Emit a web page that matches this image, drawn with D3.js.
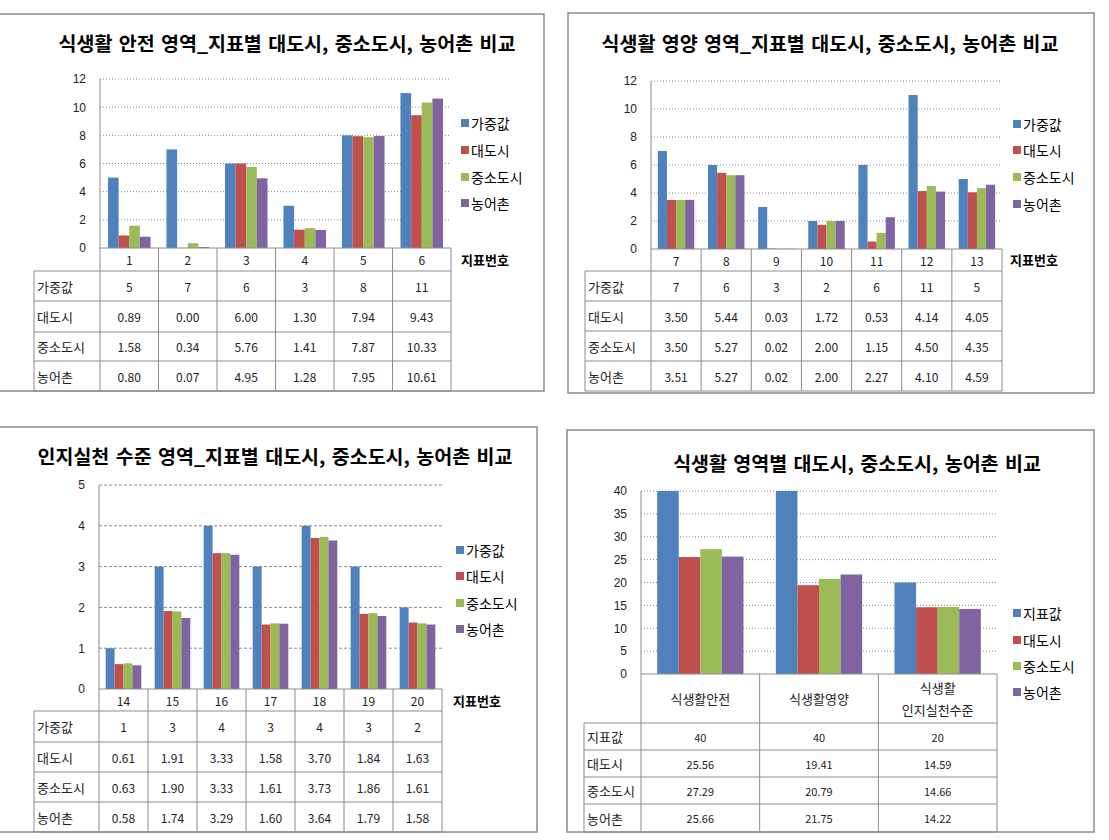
<!DOCTYPE html>
<html>
<head>
<meta charset="utf-8">
<script src="https://cdn.jsdelivr.net/npm/d3@7"></script>
<style>
  body { margin: 0; background: #fff; }
  svg { display: block; font-family: "Noto Sans CJK KR", "Noto Sans", sans-serif; }
</style>
</head>
<body>
<svg id="chart"></svg>
<script>
const width = 1109, height = 840;

// series names
const seriesNames = ["가중값", "대도시", "중소도시", "농어촌"];
const summarySeries = ["지표값", "대도시", "중소도시", "농어촌"];
const colors = ["#4F81BD", "#C0504D", "#9BBB59", "#8064A2"];

// 식생활 안전
const safetyIdx = ["1", "2", "3", "4", "5", "6"];
const safetyWeight = [5, 7, 6, 3, 8, 11];
const safetyMetro = [0.89, 0.00, 6.00, 1.30, 7.94, 9.43];
const safetySmall = [1.58, 0.34, 5.76, 1.41, 7.87, 10.33];
const safetyRural = [0.80, 0.07, 4.95, 1.28, 7.95, 10.61];

// 식생활 영양
const nutriIdx = ["7", "8", "9", "10", "11", "12", "13"];
const nutriWeight = [7, 6, 3, 2, 6, 11, 5];
const nutriMetro = [3.50, 5.44, 0.03, 1.72, 0.53, 4.14, 4.05];
const nutriSmall = [3.50, 5.27, 0.02, 2.00, 1.15, 4.50, 4.35];
const nutriRural = [3.51, 5.27, 0.02, 2.00, 2.27, 4.10, 4.59];

// 인지실천 수준
const awareIdx = ["14", "15", "16", "17", "18", "19", "20"];
const awareWeight = [1, 3, 4, 3, 4, 3, 2];
const awareMetro = [0.61, 1.91, 3.33, 1.58, 3.70, 1.84, 1.63];
const awareSmall = [0.63, 1.90, 3.33, 1.61, 3.73, 1.86, 1.61];
const awareRural = [0.58, 1.74, 3.29, 1.60, 3.64, 1.79, 1.58];

// 영역별 합계
const areaNames = ["식생활안전", "식생활영양", "식생활\n인지실천수준"];
const areaIndex = [40, 40, 20];
const areaMetro = [25.56, 19.41, 14.59];
const areaSmall = [27.29, 20.79, 14.66];
const areaRural = [25.66, 21.75, 14.22];

const svg = d3.select("#chart").attr("width", width).attr("height", height);

const panels = [
  {title: "식생활 안전 영역_지표별 대도시, 중소도시, 농어촌 비교", titleX: 287, titleY: 42,
   cats: safetyIdx, series: seriesNames, values: [safetyWeight, safetyMetro, safetySmall, safetyRural],
   box: [-2, 14, 544, 391], plot: [100, 451, 79, 248], yMax: 12, yStep: 2,
   tableLeft: 34, rows: [248, 271, 301, 332, 361, 391],
   legendX: 461, legendY: [123, 150, 177, 203], unit: [461, 259], dash: "1,2"},
  {title: "식생활 영양 영역_지표별 대도시, 중소도시, 농어촌 비교", titleX: 830, titleY: 42,
   cats: nutriIdx, series: seriesNames, values: [nutriWeight, nutriMetro, nutriSmall, nutriRural],
   box: [568, 13, 1094, 393], plot: [651, 1002, 81, 249], yMax: 12, yStep: 2,
   tableLeft: 585, rows: [249, 271, 301, 331, 361, 391],
   legendX: 1013, legendY: [124, 150, 177, 204], unit: [1010, 259], dash: "1,2"},
  {title: "인지실천 수준 영역_지표별 대도시, 중소도시, 농어촌 비교", titleX: 275, titleY: 455,
   cats: awareIdx, series: seriesNames, values: [awareWeight, awareMetro, awareSmall, awareRural],
   box: [-2, 427, 537, 832], plot: [99, 442, 485, 689], yMax: 5, yStep: 1,
   tableLeft: 34, rows: [689, 711, 742, 772, 802, 832],
   legendX: 456, legendY: [550, 576, 603, 629], unit: [453, 700], dash: "3,2"},
  {title: "식생활 영역별 대도시, 중소도시, 농어촌 비교", titleX: 857, titleY: 462,
   cats: areaNames, series: summarySeries, values: [areaIndex, areaMetro, areaSmall, areaRural],
   box: [567, 430, 1094, 832], plot: [641, 997, 491, 674], yMax: 40, yStep: 5,
   tableLeft: 584, rows: [674, 723, 750, 777, 804, 832],
   legendX: 1013, legendY: [613, 640, 666, 692], unit: null, dash: "1,2", small: true}
];

panels.forEach(drawPanel);

function drawPanel(p) {
  const g = svg.append("g");
  const [left, right, top, bottom] = p.plot;

  g.append("rect")
    .attr("x", p.box[0]).attr("y", p.box[1])
    .attr("width", p.box[2] - p.box[0]).attr("height", p.box[3] - p.box[1])
    .attr("fill", "#fff").attr("stroke", "#8c8c8c").attr("stroke-width", 1.5);

  g.append("text")
    .attr("x", p.titleX).attr("y", p.titleY)
    .attr("text-anchor", "middle").attr("dominant-baseline", "central")
    .style("font-size", "19.5px").style("font-weight", "bold")
    .style("word-spacing", "2px")
    .text(p.title);

  const x = d3.scaleBand().domain(p.cats).range([left, right]);
  const xs = d3.scaleBand().domain(d3.range(4)).range([0, x.bandwidth()]).paddingOuter(0.75);
  const y = d3.scaleLinear().domain([0, p.yMax]).range([bottom, top]);
  const ticks = d3.range(0, p.yMax + 0.001, p.yStep);

  // gridlines
  g.append("g").selectAll("line").data(ticks.filter(t => t > 0)).join("line")
    .attr("x1", left).attr("x2", right)
    .attr("y1", d => y(d)).attr("y2", d => y(d))
    .attr("stroke", "#8a8a8a").attr("stroke-width", 1)
    .attr("stroke-dasharray", p.dash);

  // y labels
  const yAxis = g.append("g").attr("transform", `translate(${left},0)`)
    .call(d3.axisLeft(y).tickValues(ticks).tickFormat(d3.format("d")).tickSize(0).tickPadding(14));
  yAxis.select(".domain").remove();
  yAxis.selectAll("text").style("font-size", "12px").style("font-family", "inherit").attr("fill", "#222");

  // bars
  g.append("g").selectAll("g").data(p.values).join("g")
    .attr("fill", (d, i) => colors[i])
    .each(function(vals, si) {
      d3.select(this).selectAll("rect").data(vals).join("rect")
        .attr("x", (d, ci) => x(p.cats[ci]) + xs(si))
        .attr("width", xs.bandwidth())
        .attr("y", d => y(d))
        .attr("height", d => y(0) - y(d));
    });

  // table
  const rows = p.rows;
  const tl = g.append("g").attr("stroke", "#8c8c8c").attr("stroke-width", 1);
  tl.append("line").attr("x1", left).attr("x2", left).attr("y1", top).attr("y2", rows[5]);
  x.domain().forEach(c => {
    tl.append("line").attr("x1", x(c) + x.bandwidth()).attr("x2", x(c) + x.bandwidth())
      .attr("y1", rows[0]).attr("y2", rows[5]);
  });
  tl.append("line").attr("x1", left).attr("x2", right).attr("y1", rows[0]).attr("y2", rows[0]);
  rows.slice(1).forEach(ry => {
    tl.append("line").attr("x1", p.tableLeft).attr("x2", right).attr("y1", ry).attr("y2", ry);
  });
  tl.append("line").attr("x1", p.tableLeft).attr("x2", p.tableLeft).attr("y1", rows[1]).attr("y2", rows[5]);

  // header labels
  const hdr = g.append("g").style("font-size", p.small ? "13px" : "12px").attr("fill", "#222");
  p.cats.forEach(c => {
    const parts = c.split("\n");
    const cy = (rows[0] + rows[1]) / 2;
    const t = hdr.append("text").attr("x", x(c) + x.bandwidth() / 2).attr("text-anchor", "middle");
    parts.forEach((s, k) => {
      t.append("tspan").attr("x", x(c) + x.bandwidth() / 2)
        .attr("y", cy + (k - (parts.length - 1) / 2) * 22)
        .attr("dominant-baseline", "central").text(s);
    });
  });

  // data rows
  const body = g.append("g").style("font-size", p.small ? "11px" : "12px").attr("fill", "#222");
  p.values.forEach((vals, si) => {
    const cy = (rows[si + 1] + rows[si + 2]) / 2;
    body.append("text").attr("x", p.tableLeft + 3).attr("y", cy)
      .attr("dominant-baseline", "central").style("font-size", "13px").text(p.series[si]);
    vals.forEach((v, ci) => {
      body.append("text").attr("x", x(p.cats[ci]) + x.bandwidth() / 2).attr("y", cy)
        .attr("text-anchor", "middle").attr("dominant-baseline", "central")
        .text(si === 0 ? d3.format("d")(v) : d3.format(".2f")(v));
    });
  });

  // legend
  const lg = g.append("g");
  p.series.forEach((s, i) => {
    lg.append("rect").attr("x", p.legendX).attr("y", p.legendY[i] - 4)
      .attr("width", 8).attr("height", 8).attr("fill", colors[i]);
    lg.append("text").attr("x", p.legendX + 10).attr("y", p.legendY[i])
      .attr("dominant-baseline", "central").style("font-size", "14px").text(s);
  });

  if (p.unit) {
    g.append("text").attr("x", p.unit[0]).attr("y", p.unit[1])
      .attr("dominant-baseline", "central").style("font-size", "13px").style("font-weight", "bold")
      .text("지표번호");
  }
}
</script>
</body>
</html>
